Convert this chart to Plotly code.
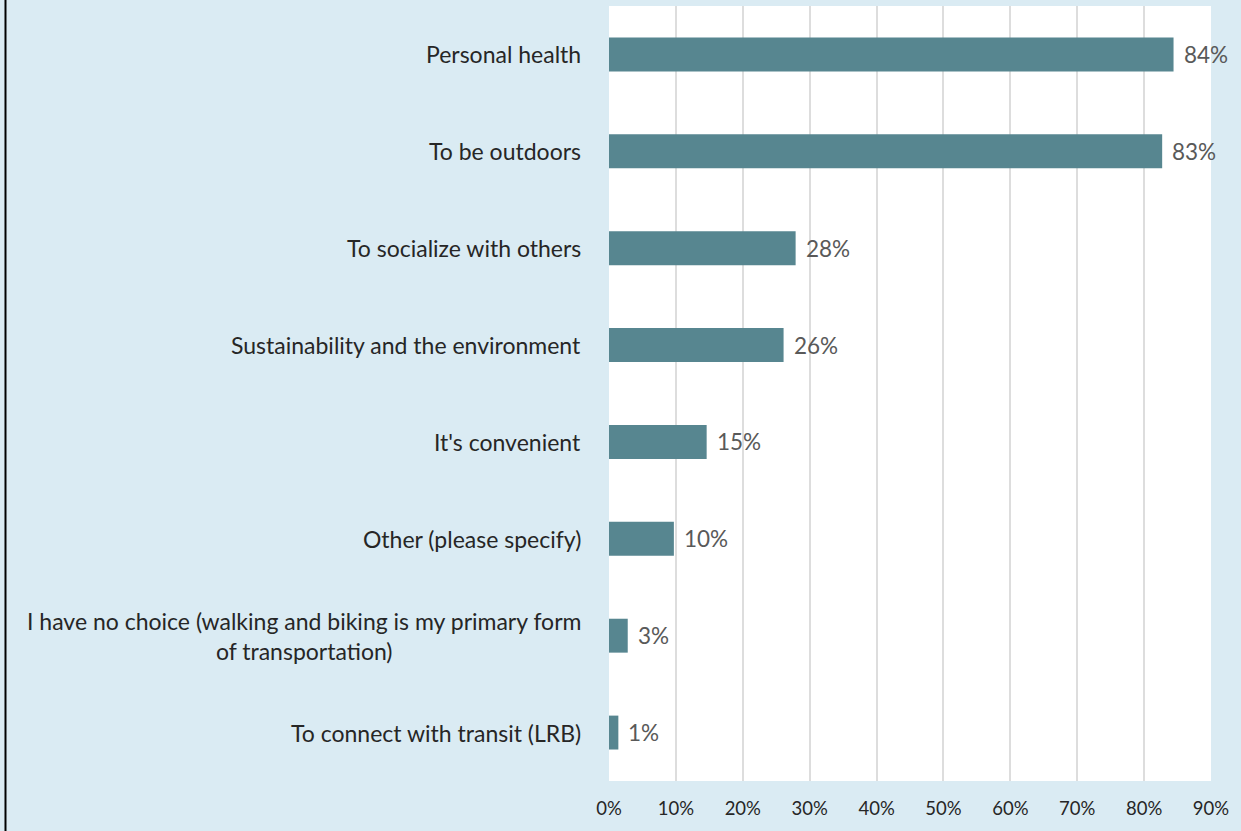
import plotly.graph_objects as go

# Survey responses: reasons for walking / biking
categories = [
    "Personal health",
    "To be outdoors",
    "To socialize with others",
    "Sustainability and the environment",
    "It's convenient",
    "Other (please specify)",
    "I have no choice (walking and biking is my primary form<br>of transportation)",
    "To connect with transit (LRB)",
]
shares = [84.4, 82.7, 27.9, 26.1, 14.6, 9.7, 2.8, 1.4]
tick_vals = [0, 10, 20, 30, 40, 50, 60, 70, 80, 90]
tick_text = [f"{v}%" for v in tick_vals]

BG = "#DAEBF3"
BAR = "#578690"
FONT = "Lato, Open Sans, sans-serif"

fig = go.Figure(
    go.Bar(
        x=shares,
        y=categories,
        orientation="h",
        marker=dict(color=BAR, line=dict(width=0)),
        width=0.35,
        hoverinfo="skip",
    )
)

# value labels to the right of each bar
for cat, v in zip(categories, shares):
    fig.add_annotation(
        x=v, y=cat, xref="x", yref="y",
        text=f"{v:.0f}%", showarrow=False,
        xanchor="left", xshift=8,
        font=dict(family=FONT, size=22.5, color="#595959"),
    )

# category labels, multi-line entries centred within their block
for cat in categories:
    fig.add_annotation(
        x=0, y=cat, xref="paper", yref="y",
        text=cat, showarrow=False,
        xanchor="right", xshift=-26, align="center",
        font=dict(family=FONT, size=23, color="#262626"),
    )

# left frame edge
fig.add_shape(
    type="line", xref="paper", yref="paper",
    x0=-1.0025, x1=-1.0025, y0=-0.1, y1=1.1,
    line=dict(color="#000000", width=2),
)

fig.update_layout(
    width=1241, height=831,
    paper_bgcolor=BG, plot_bgcolor="#FFFFFF",
    margin=dict(l=609, r=30, t=6, b=50),
    showlegend=False,
    bargap=0.65,
    font=dict(family=FONT),
)
fig.update_xaxes(
    range=[0, 90], tickvals=tick_vals, ticktext=tick_text,
    showgrid=True, gridcolor="#DDDDDD", gridwidth=2,
    zeroline=False, showline=False,
    tickfont=dict(family=FONT, size=18.5, color="#262626"),
    ticks="", ticklabelstandoff=14,
)
fig.update_yaxes(
    autorange="reversed", showticklabels=False,
    showgrid=False, zeroline=False, showline=False, ticks="",
)

fig.write_html("out.html")
